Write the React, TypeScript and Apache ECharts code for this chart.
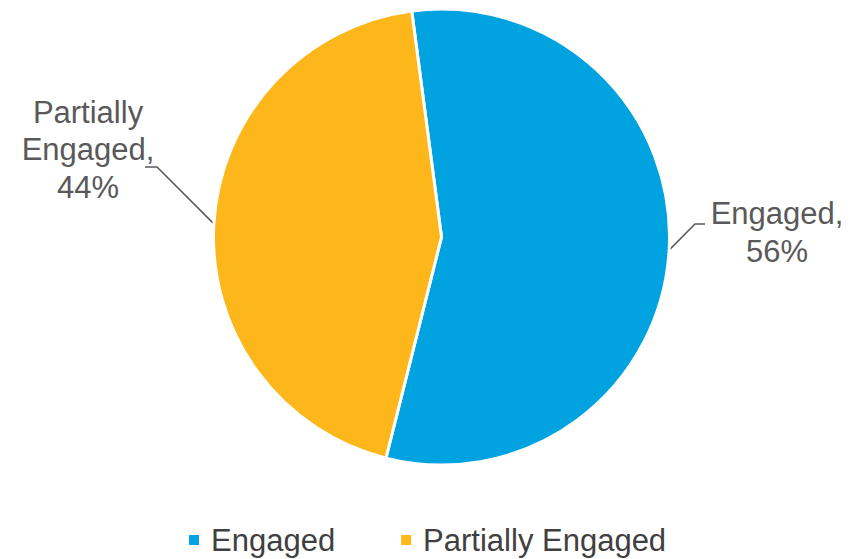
import React, { useEffect, useRef } from "react";
import * as echarts from "echarts";

const categories = ["Engaged", "Partially Engaged"];
const values = [56, 44];
const labelTexts = ["Engaged,\n56%", "Partially\nEngaged,\n44%"];
const colors = ["#00A3E0", "#FDB71A"];

export default function App() {
  const ref = useRef<HTMLDivElement>(null);
  useEffect(() => {
    document.body.style.margin = "0";
    const chart = echarts.init(ref.current!, undefined, { renderer: "svg" });
    const labelPos = [
      { x: 777, y: 232.5 },
      { x: 88, y: 149.5 },
    ];
    chart.setOption({
      animation: false,
      color: colors,
      legend: {
        data: categories,
        top: 523,
        left: 187,
        padding: 0,
        icon: "rect",
        itemWidth: 12,
        itemHeight: 12,
        itemGap: 64,
        textStyle: {
          fontFamily: "Liberation Sans, Arial, sans-serif",
          fontSize: 31,
          color: "#404040",
          padding: [0, 0, 0, 6],
          lineHeight: 34,
        },
      },
      series: [
        {
          type: "pie",
          center: [441.5, 237],
          radius: 228,
          startAngle: 97.5,
          clockwise: true,
          itemStyle: { borderColor: "#ffffff", borderWidth: 3 },
          label: {
            show: true,
            position: "outside",
            fontFamily: "Liberation Sans, Arial, sans-serif",
            fontSize: 31,
            lineHeight: 37.5,
            color: "#595959",
            formatter: (p: any) => labelTexts[p.dataIndex],
          },
          labelLine: {
            show: true,
            length: 20,
            length2: 10,
            lineStyle: { color: "#595959", width: 1.5 },
          },
          labelLayout: (params: any) => {
            const i = params.dataIndex;
            const lp = labelPos[i];
            const edge = params.labelLinePoints ? params.labelLinePoints[0] : [0, 0];
            const pts =
              i === 0
                ? [edge, [lp.x - 82, lp.y - 8.5], [lp.x - 72, lp.y - 8.5]]
                : [edge, [lp.x + 69, lp.y + 17.5], [lp.x + 57, lp.y + 17.5]];
            return {
              x: lp.x,
              y: lp.y,
              align: "center",
              verticalAlign: "middle",
              labelLinePoints: pts,
            };
          },
          data: categories.map((c, i) => ({ name: c, value: values[i] })),
        },
      ],
    });
    return () => chart.dispose();
  }, []);
  return <div ref={ref} style={{ width: 866, height: 559 }} />;
}
